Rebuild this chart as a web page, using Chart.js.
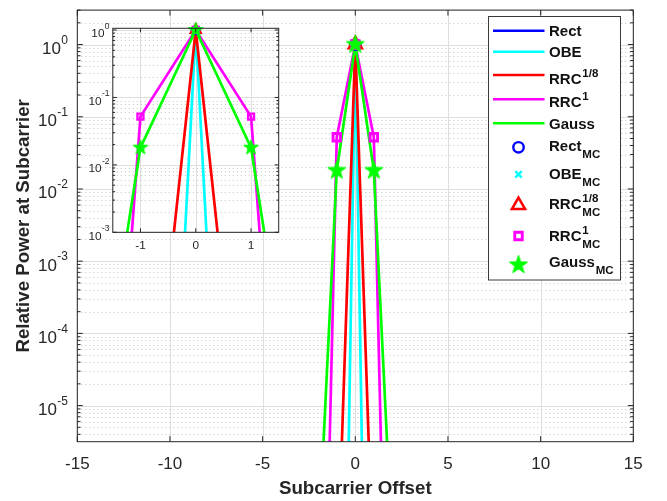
<!DOCTYPE html>
<html><head><meta charset="utf-8">
<script src="https://cdn.jsdelivr.net/npm/chart.js@4"></script>
<style>
html,body{margin:0;padding:0;background:#fff;}
#wrap{position:relative;width:667px;height:501px;overflow:hidden;}
#wrap canvas{position:absolute;left:0;top:0;}
#inset{pointer-events:none;}
</style></head><body>
<div id="wrap"><canvas id="main" width="667" height="501"></canvas><canvas id="inset" width="667" height="501"></canvas></div>
<script>
// ---------------- data ----------------
const offsets = [-2, -1, 0, 1, 2];
// analytical (lines); null = zero power (not representable on log axis)
const rectP  = [null, null, 1, null, null];
const obeP   = [1e-31, 3e-16, 1, 3e-16, 1e-31];
const rrc18P = [1e-15, 2.5e-8, 1, 2.5e-8, 1e-15];
const rrc1P  = [5e-13, 0.052, 1, 0.052, 5e-13];
const gaussP = [1e-7, 0.018, 1, 0.018, 1e-7];
// Monte Carlo (markers)
const rectMC  = [null, null, 1, null, null];
const obeMC   = [1e-31, 3e-16, 1, 3e-16, 1e-31];
const rrc18MC = [1e-15, 2.5e-8, 1, 2.5e-8, 1e-15];
const rrc1MC  = [5e-13, 0.052, 1, 0.052, 5e-13];
const gaussMC = [1e-7, 0.018, 1, 0.018, 1e-7];
// ticks
const xTicks = [-15, -10, -5, 0, 5, 10, 15];
const yTickExps = [0, -1, -2, -3, -4, -5];
const insetXTicks = [-1, 0, 1];
const insetYTickExps = [0, -1, -2, -3];
// names
const seriesNames = ['Rect', 'OBE', 'RRC', 'RRC', 'Gauss'];
const seriesSups  = ['', '', '1/8', '1', ''];
const xTitle = 'Subcarrier Offset';
const yTitle = 'Relative Power at Subcarrier';

// ---------------- styles ----------------
const FONT = '"Liberation Sans", Arial, Helvetica, sans-serif';
const AX = '#262626';
const seriesColors = ['#0000ff', '#00ffff', '#ff0000', '#ff00ff', '#00ff00'];

function starImage(R, color) {
  const s = 2 * Math.ceil(R) + 4;
  const c = document.createElement('canvas'); c.width = s; c.height = s;
  const g = c.getContext('2d'); const cx = s / 2, cy = s / 2, r = R * 0.40;
  g.beginPath();
  for (let i = 0; i < 10; i++) {
    const rad = i % 2 ? r : R, a = -Math.PI / 2 + i * Math.PI / 5;
    g.lineTo(cx + rad * Math.cos(a), cy + rad * Math.sin(a));
  }
  g.closePath(); g.fillStyle = color; g.fill();
  g.strokeStyle = color; g.lineWidth = 1; g.stroke();
  return c;
}

function markerStyles(k) {
  return [
    {style: 'circle',   r: 5.2 * k, bw: 2.4 * k},
    {style: 'crossRot', r: 4.6 * k, bw: 2.4 * k},
    {style: 'triangle', r: 7.6 * k, bw: 2.5 * k},
    {style: 'rect',     r: 5.3 * k, bw: 2.9 * k},
    {style: starImage(9.6 * k, seriesColors[4]), r: 9.6 * k, bw: 0}
  ];
}

function pts(vals) { return offsets.map((x, i) => ({x: x, y: vals[i]})); }

function buildDatasets(k, lw) {
  const lines = [rectP, obeP, rrc18P, rrc1P, gaussP];
  const mcs = [rectMC, obeMC, rrc18MC, rrc1MC, gaussMC];
  const ms = markerStyles(k);
  const ds = [];
  lines.forEach((v, i) => ds.push({
    label: seriesNames[i] + seriesSups[i], data: pts(v), borderColor: seriesColors[i],
    borderWidth: lw, pointRadius: 0, showLine: true, fill: false, tension: 0, spanGaps: false
  }));
  mcs.forEach((v, i) => ds.push({
    label: seriesNames[i] + seriesSups[i] + 'MC', data: pts(v), showLine: false,
    pointStyle: ms[i].style, pointRadius: ms[i].r, pointBorderWidth: ms[i].bw,
    pointBorderColor: seriesColors[i], pointBackgroundColor: i === 4 ? seriesColors[i] : 'rgba(0,0,0,0)',
    borderColor: seriesColors[i], clip: 14
  }));
  ds.forEach((d, i) => { d.order = ds.length - i; });
  return ds;
}

// ---------------- drawing helpers ----------------
function decadeRange(y) {
  return [Math.floor(Math.log10(y.min)) - 1, Math.ceil(Math.log10(y.max)) + 1];
}
function drawGrid(chart, xt, ye) {
  const {ctx, chartArea: a, scales: {x, y}} = chart;
  ctx.save();
  ctx.lineWidth = 1;
  ctx.strokeStyle = '#c2c2c2'; ctx.setLineDash([1, 3]);
  const [e0, e1] = decadeRange(y);
  for (let e = e0; e <= e1; e++) for (let m = 2; m <= 9; m++) {
    const v = Number(m + 'e' + e);
    if (v < y.min || v > y.max) continue;
    const py = Math.round(y.getPixelForValue(v)) + 0.5;
    ctx.beginPath(); ctx.moveTo(a.left, py); ctx.lineTo(a.right, py); ctx.stroke();
  }
  ctx.setLineDash([]);
  ctx.strokeStyle = '#dedede';
  for (const t of xt) {
    const px = Math.round(x.getPixelForValue(t)) + 0.5;
    ctx.beginPath(); ctx.moveTo(px, a.top); ctx.lineTo(px, a.bottom); ctx.stroke();
  }
  for (const e of ye) {
    const py = Math.round(y.getPixelForValue(Number('1e' + e))) + 0.5;
    ctx.beginPath(); ctx.moveTo(a.left, py); ctx.lineTo(a.right, py); ctx.stroke();
  }
  ctx.restore();
}
function drawAxes(chart, xt, major, minor) {
  const {ctx, chartArea: a, scales: {x, y}} = chart;
  ctx.save();
  ctx.strokeStyle = AX; ctx.lineWidth = 1;
  ctx.strokeRect(a.left, a.top, a.right - a.left, a.bottom - a.top);
  ctx.beginPath();
  for (const t of xt) {
    const px = x.getPixelForValue(t);
    ctx.moveTo(px, a.bottom); ctx.lineTo(px, a.bottom - major);
    ctx.moveTo(px, a.top); ctx.lineTo(px, a.top + major);
  }
  const [e0, e1] = decadeRange(y);
  for (let e = e0; e <= e1; e++) for (let m = 1; m <= 9; m++) {
    const v = Number(m + 'e' + e);
    if (v < y.min * 0.9999 || v > y.max * 1.0001) continue;
    const py = y.getPixelForValue(v), L = m === 1 ? major : minor;
    ctx.moveTo(a.left, py); ctx.lineTo(a.left + L, py);
    ctx.moveTo(a.right, py); ctx.lineTo(a.right - L, py);
  }
  ctx.stroke();
  ctx.restore();
}
function drawTickLabels(chart, xt, ye, o) {
  const {ctx, scales: {x, y}} = chart;
  ctx.save(); ctx.fillStyle = AX; ctx.textBaseline = 'alphabetic';
  ctx.font = o.fs + 'px ' + FONT; ctx.textAlign = 'center';
  for (const t of xt) ctx.fillText(String(t), x.getPixelForValue(t), o.xBase);
  for (const e of ye) {
    const py = y.getPixelForValue(Number('1e' + e));
    const sup = String(e);
    ctx.font = o.supFs + 'px ' + FONT;
    const ws = ctx.measureText(sup).width;
    ctx.textAlign = 'left'; ctx.fillText(sup, o.yRight - ws, py + o.supDy);
    ctx.font = o.fs + 'px ' + FONT;
    ctx.textAlign = 'right'; ctx.fillText('10', o.yRight - ws - 0.3, py + o.baseDy);
  }
  ctx.restore();
}

// ---------------- legend ----------------
const legendBox = {x: 488.5, y: 16.5, w: 132, h: 263.5};
const legendSymY = [30.7, 51.7, 75, 99.3, 123.3, 147.3, 174.3, 203.3, 236, 265];
const legendTextY = [36.2, 57.2, 83.8, 107.2, 128.8, 150.5, 178.7, 208.7, 240.7, 267.2];
function drawLegendMarker(ctx, ms, color, x, y) {
  ctx.save(); ctx.strokeStyle = color; ctx.fillStyle = color; ctx.lineWidth = ms.bw;
  ctx.beginPath();
  if (typeof ms.style !== 'string') {
    ctx.drawImage(ms.style, x - ms.style.width / 2, y - ms.style.height / 2);
  } else if (ms.style === 'circle') {
    ctx.arc(x, y, ms.r, 0, Math.PI * 2); ctx.stroke();
  } else if (ms.style === 'crossRot') {
    const d = ms.r * Math.SQRT1_2;
    ctx.moveTo(x - d, y - d); ctx.lineTo(x + d, y + d);
    ctx.moveTo(x + d, y - d); ctx.lineTo(x - d, y + d); ctx.stroke();
  } else if (ms.style === 'triangle') {
    const yc = y + ms.r * 0.25;
    for (let k = 0; k < 3; k++) {
      const a = -Math.PI / 2 + k * 2 * Math.PI / 3;
      ctx.lineTo(x + ms.r * Math.cos(a), yc + ms.r * Math.sin(a));
    }
    ctx.closePath(); ctx.stroke();
  } else if (ms.style === 'rect') {
    const h = ms.r * Math.SQRT1_2; ctx.rect(x - h, y - h, 2 * h, 2 * h); ctx.stroke();
  }
  ctx.restore();
}
function drawLegend(chart) {
  const ctx = chart.ctx; const ms = markerStyles(1);
  ctx.save();
  ctx.fillStyle = '#fff'; ctx.fillRect(legendBox.x, legendBox.y, legendBox.w, legendBox.h);
  ctx.strokeStyle = '#3a3a3a'; ctx.lineWidth = 1;
  ctx.strokeRect(legendBox.x, legendBox.y, legendBox.w, legendBox.h);
  for (let r = 0; r < 10; r++) {
    const i = r % 5, isMC = r >= 5;
    const sy = legendSymY[r], ty = legendTextY[r];
    if (!isMC) {
      ctx.strokeStyle = seriesColors[i]; ctx.lineWidth = 2.6;
      ctx.beginPath(); ctx.moveTo(493, sy); ctx.lineTo(544.5, sy); ctx.stroke();
    } else {
      drawLegendMarker(ctx, ms[i], seriesColors[i], 518.5, sy);
    }
    ctx.fillStyle = '#111'; ctx.textAlign = 'left'; ctx.textBaseline = 'alphabetic';
    ctx.font = 'bold 15px ' + FONT;
    ctx.fillText(seriesNames[i], 549, ty);
    const w = ctx.measureText(seriesNames[i]).width;
    ctx.font = 'bold 11.5px ' + FONT;
    if (seriesSups[i]) ctx.fillText(seriesSups[i], 549 + w + 0.8, ty - 7);
    if (isMC) ctx.fillText('MC', 549 + w + 0.8, ty + 7);
  }
  ctx.restore();
}

// ---------------- main chart ----------------
Chart.defaults.font.family = FONT;
const mainDeco = {
  id: 'mainDeco',
  beforeDatasetsDraw(chart) { drawGrid(chart, xTicks, yTickExps); },
  afterDatasetsDraw(chart) {
    drawAxes(chart, xTicks, 5.5, 3.2);
    drawTickLabels(chart, xTicks, yTickExps, {fs: 17, supFs: 12, xBase: 469.2, yRight: 68, supDy: -0.8, baseDy: 9.4});
    const ctx = chart.ctx, a = chart.chartArea;
    ctx.save(); ctx.fillStyle = AX; ctx.font = 'bold 18.7px ' + FONT; ctx.textAlign = 'center';
    ctx.textBaseline = 'alphabetic';
    ctx.fillText(xTitle, (a.left + a.right) / 2, 493.7);
    ctx.translate(22, (a.top + a.bottom) / 2); ctx.rotate(-Math.PI / 2);
    ctx.fillText(yTitle, 0, 6.7);
    ctx.restore();
    drawLegend(chart);
  }
};
new Chart(document.getElementById('main'), {
  type: 'line',
  data: {datasets: buildDatasets(1, 2.7)},
  options: {
    responsive: false, animation: false, events: [], devicePixelRatio: 1,
    layout: {padding: {left: 77.3, top: 4.7, right: 33.7, bottom: 59.3}},
    scales: {
      x: {type: 'linear', display: false, min: -15, max: 15},
      y: {type: 'logarithmic', display: false, min: Math.pow(10, -5.5), max: 3}
    },
    plugins: {legend: {display: false}, tooltip: {enabled: false}}
  },
  plugins: [mainDeco]
});

// ---------------- inset chart ----------------
const insetDeco = {
  id: 'insetDeco',
  beforeDraw(chart) {
    const {ctx, chartArea: a} = chart;
    ctx.save(); ctx.fillStyle = '#fff'; ctx.fillRect(a.left, a.top, a.right - a.left, a.bottom - a.top); ctx.restore();
  },
  beforeDatasetsDraw(chart) { drawGrid(chart, insetXTicks, insetYTickExps); },
  afterDatasetsDraw(chart) {
    drawAxes(chart, insetXTicks, 4, 2.3);
    drawTickLabels(chart, insetXTicks, insetYTickExps, {fs: 11.8, supFs: 8.5, xBase: 249.3, yRight: 109.5, supDy: -1.2, baseDy: 7.2});
  }
};
new Chart(document.getElementById('inset'), {
  type: 'line',
  data: {datasets: buildDatasets(0.8, 2.7)},
  options: {
    responsive: false, animation: false, events: [], devicePixelRatio: 1,
    layout: {padding: {left: 112.8, top: 28.3, right: 388.3, bottom: 268.7}},
    scales: {
      x: {type: 'linear', display: false, min: -1.5, max: 1.5},
      y: {type: 'logarithmic', display: false, min: 1e-3, max: 1.06}
    },
    plugins: {legend: {display: false}, tooltip: {enabled: false}}
  },
  plugins: [insetDeco]
});
</script>
</body></html>
